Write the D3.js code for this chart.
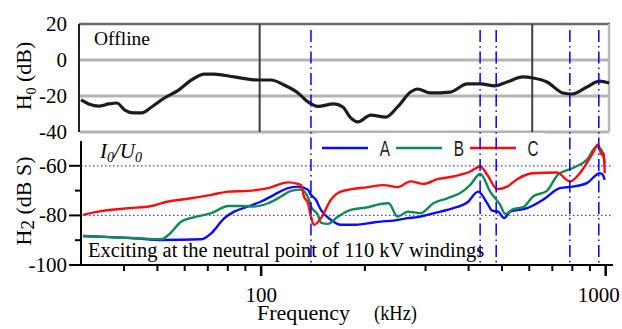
<!DOCTYPE html>
<html>
<head>
<meta charset="utf-8">
<script src="https://cdn.jsdelivr.net/npm/d3@7"></script>
<style>
  body { margin: 0; background: #fff; }
  text { font-family: "Liberation Serif", "Times New Roman", serif; fill: #000; }
</style>
</head>
<body>
<div id="chart"></div>
<script>
// offline H0 curve (top panel)
const h0Freq = [30.0, 31.6, 33.8, 36.1, 38.1, 40.2, 42.6, 45.0, 48.1, 52.4, 57.6, 62.8, 68.4, 73.1, 83.5, 98.0,
  106.9, 116.5, 127.9, 136.7, 146.1, 162.6, 172.6, 182.0, 190.8, 208.0, 229.8, 248.8, 271.5, 284.5, 310.0,
  354.0, 396.6, 432.5, 476.5, 517.4, 575.5, 615.6, 675.6, 751.0, 797.5, 882.0, 960.0, 1023];
const h0Db = [-22.2, -24.4, -25.6, -24.4, -23.9, -27.8, -29.4, -29.4, -26.1, -21.1, -16.7, -11.1, -7.8, -7.8, -9.4, -11.1,
  -11.1, -13.9, -18.3, -23.3, -25.8, -24.4, -26.1, -32.2, -34.4, -30.6, -31.7, -26.1, -17.8, -16.1, -18.3,
  -17.8, -13.3, -13.3, -14.4, -12.2, -9.4, -10.0, -12.2, -18.3, -18.9, -15.0, -11.7, -12.8];

// H2 phase A
const aFreq = [30.4, 34.5, 42.9, 51.4, 67.1, 71.7, 78.2, 83.5, 91.7, 100, 109.0, 119.7, 127.9, 136.7, 139.5, 144.2,
  149.1, 159.4, 170.3, 185.7, 203.9, 222.3, 242.3, 266.0, 284.3, 303.9, 331.3, 361.3, 396.6, 426.6, 453.0,
  468.3, 487.5, 507.4, 527.9, 591.3, 657.6, 736.4, 802.9, 881.3, 960.9, 980.2, 993.3];
const aDb = [-88.3, -88.6, -89.2, -89.9, -89.6, -87.2, -81.1, -78.5, -76.4, -74.4, -71.7, -69.0, -68.4, -69.7, -71.7, -73.7,
  -77.8, -81.8, -83.8, -83.8, -83.2, -82.5, -82.1, -81.1, -80.7, -79.8, -78.5, -77.1, -74.8, -70.4, -75.1,
  -78.1, -78.5, -81.1, -78.5, -77.1, -73.7, -69.0, -68.4, -67.0, -63.0, -63.6, -65.7];

// H2 phase B
const bFreq = [30.4, 42.9, 51.4, 53.8, 58.7, 64.0, 71.7, 80.3, 87.5, 95.5, 104.8, 114.2, 122.1, 130.5, 137.6, 139.5,
  146.1, 149.1, 156.2, 167.0, 182.0, 203.9, 222.3, 234.4, 248.9, 266.0, 290.1, 316.2, 347.1, 378.4, 404.6,
  432.3, 462.0, 494.0, 510.8, 538.6, 575.7, 615.3, 675.3, 726.6, 802.9, 881.3, 942.0, 973.7, 993.3];
const bDb = [-88.3, -89.2, -89.6, -87.9, -82.5, -80.7, -79.1, -76.2, -76.2, -76.4, -75.1, -72.4, -70.1, -69.6, -73.7, -76.4,
  -79.8, -82.9, -83.4, -80.5, -77.8, -76.7, -75.4, -75.1, -80.5, -78.5, -79.1, -75.1, -73.1, -71.0, -67.7,
  -63.2, -70.4, -75.8, -79.4, -77.5, -76.7, -72.4, -70.1, -63.6, -60.9, -57.6, -52.2, -53.8, -58.9];

// H2 phase C
const cFreq = [30.4, 34.5, 41.3, 48.1, 53.8, 59.9, 71.7, 80.3, 91.7, 104.8, 119.7, 127.9, 130.5, 133.1, 136.7, 139.5,
  142.3, 149.1, 159.4, 170.3, 203.9, 226.8, 248.9, 271.4, 295.9, 324.8, 361.3, 404.6, 432.3, 453.0, 484.2,
  517.6, 553.2, 615.3, 721.8, 787.0, 841.2, 917.3, 948.3, 973.7, 986.7, 993.3];
const cDb = [-79.8, -78.2, -77.1, -76.2, -74.4, -73.5, -71.7, -70.4, -70.1, -69.0, -66.7, -67.3, -67.7, -72.4, -75.1, -80.5,
  -83.8, -81.1, -73.7, -70.4, -68.6, -67.8, -68.6, -66.3, -67.3, -65.4, -64.3, -62.3, -60.3, -63.6, -69.4,
  -68.4, -65.4, -63.0, -62.7, -66.3, -63.0, -54.9, -51.5, -55.6, -54.9, -63.0];

const seriesNames = ["A", "B", "C"];
const seriesColors = ["#0a0aff", "#108a58", "#ff0a0a"];

// dash-dot markers (kHz) and dark reference lines of the offline plot
const markerFreq = [139.5, 432, 481, 787, 955];
const darkLineFreq = [99, 612];

const h0Ticks = [20, 0, -20, -40];
const h2Ticks = [-60, -80, -100];
const h2Minor = [-70, -90];
const xMajor = [100, 1000];
const xMinor = [40, 50, 60, 70, 80, 90, 200, 300, 400, 500, 600, 700, 800, 900];

const width = 622, height = 329;
const svg = d3.select("#chart").append("svg")
  .attr("width", width).attr("height", height);

const defs = svg.append("defs");
defs.append("filter").attr("id", "soft")
  .append("feGaussianBlur").attr("stdDeviation", 0.6);

const x = d3.scaleLog().domain([30, 1050]).range([81, 613]);
const yTop = d3.scaleLinear().domain([-40, 20]).range([132, 24]);
const yBot = d3.scaleLinear().domain([-100, -50]).range([265, 141]);

// ---------- top panel (offline) ----------
const topG = svg.append("g").attr("filter", "url(#soft)");
topG.selectAll(".hgrid").data([0, -20, -40]).join("line")
  .attr("x1", 80).attr("x2", 609)
  .attr("y1", d => yTop(d)).attr("y2", d => yTop(d))
  .attr("stroke", "#b4b4b4").attr("stroke-width", 3);
topG.append("line").attr("x1", 79).attr("x2", 610)
  .attr("y1", yTop(20)).attr("y2", yTop(20))
  .attr("stroke", "#6a6a6a").attr("stroke-width", 2.5);
topG.append("line").attr("x1", 609).attr("x2", 609)
  .attr("y1", yTop(20)).attr("y2", yTop(-40))
  .attr("stroke", "#b8b8b8").attr("stroke-width", 2.5);
topG.selectAll(".dark").data(darkLineFreq).join("line")
  .attr("x1", d => x(d)).attr("x2", d => x(d))
  .attr("y1", yTop(20)).attr("y2", yTop(-40))
  .attr("stroke", "#404040").attr("stroke-width", 2);
topG.append("line").attr("x1", 79).attr("x2", 79)
  .attr("y1", yTop(20)).attr("y2", yTop(-40))
  .attr("stroke", "#222").attr("stroke-width", 2);

const lineTop = d3.line()
  .x((d, i) => x(h0Freq[i])).y(d => yTop(d))
  .curve(d3.curveMonotoneX);
topG.append("path").datum(h0Db)
  .attr("d", lineTop)
  .attr("fill", "none").attr("stroke", "#1e1e1e").attr("stroke-width", 3.2);

svg.append("text").attr("x", 94).attr("y", 45)
  .style("font-size", "19.5px").text("Offline");

svg.selectAll(".h0lab").data(h0Ticks).join("text")
  .attr("x", 67).attr("y", d => yTop(d) + 7)
  .attr("text-anchor", "end").style("font-size", "21px")
  .text(d => d);

const h0Label = svg.append("text")
  .attr("transform", `translate(31, ${(yTop(20) + yTop(-40)) / 2 - 2}) rotate(-90)`)
  .attr("text-anchor", "middle").style("font-size", "22px");
h0Label.append("tspan").text("H");
h0Label.append("tspan").attr("dy", 5).style("font-size", "14px").text("0");
h0Label.append("tspan").attr("dy", -5).text(" (dB)");

// ---------- bottom panel (H2) ----------
const bottom = svg.append("g");

bottom.selectAll(".dotgrid").data([-60, -80]).join("line")
  .attr("x1", x(30)).attr("x2", 613)
  .attr("y1", d => yBot(d)).attr("y2", d => yBot(d))
  .attr("stroke", "#3a3aff").attr("stroke-width", 1.2)
  .attr("stroke-dasharray", "1.5,2.5");

// legend box (covers the bottom edge of the offline plot)
const legend = svg.append("g");
legend.append("rect").attr("x", 317).attr("y", 133)
  .attr("width", 228).attr("height", 30).attr("fill", "#fff");

const lines = [[aFreq, aDb], [bFreq, bDb], [cFreq, cDb]];
lines.forEach((s, k) => {
  const line = d3.line()
    .x((d, i) => x(s[0][i])).y(d => yBot(d))
    .curve(d3.curveMonotoneX);
  bottom.append("path").datum(s[1])
    .attr("d", line)
    .attr("fill", "none").attr("stroke", seriesColors[k])
    .attr("stroke-width", 2.4).attr("stroke-linejoin", "round");
});

seriesNames.forEach((name, k) => {
  const lx = 322 + k * 74;
  legend.append("line").attr("x1", lx).attr("x2", lx + 46)
    .attr("y1", 148).attr("y2", 148)
    .attr("stroke", seriesColors[k]).attr("stroke-width", 2.4);
  legend.append("text")
    .attr("transform", `translate(${lx + 63}, 156) scale(0.7, 1)`)
    .attr("text-anchor", "middle")
    .style("font-family", "'Liberation Sans', sans-serif")
    .style("font-size", "22px").style("fill", "#222")
    .text(name);
});

// dash-dot markers over both panels
svg.selectAll(".marker").data(markerFreq).join("line")
  .attr("x1", d => x(d)).attr("x2", d => x(d))
  .attr("y1", 30).attr("y2", 263)
  .attr("stroke", "#0000ff").attr("stroke-width", 1.5)
  .attr("stroke-dasharray", "12,4,1.5,4");

// axes
const xAxisG = svg.append("g");
xAxisG.append("line").attr("x1", x(30)).attr("x2", 613)
  .attr("y1", yBot(-100)).attr("y2", yBot(-100))
  .attr("stroke", "#000").attr("stroke-width", 2);
xAxisG.selectAll(".xmin").data(xMinor).join("line")
  .attr("x1", d => x(d)).attr("x2", d => x(d))
  .attr("y1", yBot(-100)).attr("y2", yBot(-100) + 6)
  .attr("stroke", "#000").attr("stroke-width", 2);
xAxisG.selectAll(".xmaj").data(xMajor).join("line")
  .attr("x1", d => x(d)).attr("x2", d => x(d))
  .attr("y1", yBot(-100)).attr("y2", yBot(-100) + 11)
  .attr("stroke", "#000").attr("stroke-width", 2.5);
xAxisG.selectAll(".xlab").data(xMajor).join("text")
  .attr("x", d => x(d)).attr("y", 302)
  .attr("dx", (d, i) => i === xMajor.length - 1 ? -7 : 0)
  .attr("text-anchor", "middle").style("font-size", "21px")
  .text(d => d);

const yAxisG = svg.append("g");
yAxisG.append("line").attr("x1", 81).attr("x2", 81)
  .attr("y1", yBot(-50)).attr("y2", yBot(-100) + 1)
  .attr("stroke", "#000").attr("stroke-width", 2);
yAxisG.selectAll(".ymaj").data(h2Ticks).join("line")
  .attr("x1", 69).attr("x2", 81)
  .attr("y1", d => yBot(d)).attr("y2", d => yBot(d))
  .attr("stroke", "#000").attr("stroke-width", 2);
yAxisG.selectAll(".ymin").data(h2Minor).join("line")
  .attr("x1", 75).attr("x2", 81)
  .attr("y1", d => yBot(d)).attr("y2", d => yBot(d))
  .attr("stroke", "#000").attr("stroke-width", 2);
yAxisG.selectAll(".ylab").data(h2Ticks).join("text")
  .attr("x", 67).attr("y", d => yBot(d) + 7)
  .attr("text-anchor", "end").style("font-size", "21px")
  .text(d => d);

const h2Label = svg.append("text")
  .attr("transform", `translate(31, ${(yBot(-50) + yBot(-100)) / 2 - 2}) rotate(-90)`)
  .attr("text-anchor", "middle").style("font-size", "22px");
h2Label.append("tspan").text("H");
h2Label.append("tspan").attr("dy", 3).style("font-size", "19px").text("2");
h2Label.append("tspan").attr("dy", -3).text(" (dB S)");

const iu = svg.append("text").attr("x", 100).attr("y", 158)
  .style("font-size", "21px").style("font-style", "italic");
iu.append("tspan").text("I");
iu.append("tspan").attr("dy", 4).style("font-size", "14px").text("0");
iu.append("tspan").attr("dy", -4).text("/U");
iu.append("tspan").attr("dy", 4).style("font-size", "14px").text("0");

svg.append("text").attr("x", 88).attr("y", 257)
  .style("font-size", "20.5px")
  .text("Exciting at the neutral point of 110 kV windings");

svg.append("text").attr("x", 257).attr("y", 320)
  .style("font-size", "20px")
  .attr("textLength", 93).attr("lengthAdjust", "spacingAndGlyphs")
  .text("Frequency");
svg.append("text").attr("x", 374).attr("y", 320)
  .style("font-size", "20px")
  .attr("textLength", 43).attr("lengthAdjust", "spacingAndGlyphs")
  .text("(kHz)");
</script>
</body>
</html>
